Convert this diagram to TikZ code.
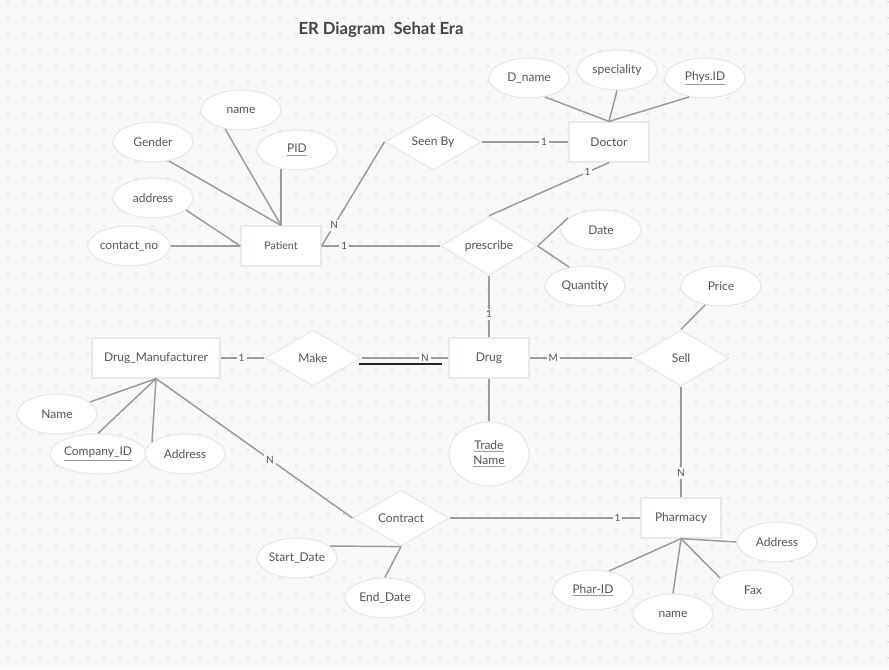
\documentclass[tikz,border=0pt]{standalone}
\usepackage{fontspec}
\setmainfont{Lato}
\usetikzlibrary{shapes.geometric,calc}

\definecolor{bgcol}{RGB}{249,249,251}
\definecolor{dotcol}{RGB}{226,226,232}
\definecolor{linecol}{RGB}{155,155,155}
\definecolor{bordercol}{RGB}{238,230,233}
\definecolor{txtcol}{RGB}{85,85,85}
\definecolor{titlecol}{RGB}{68,68,68}

% key attribute: gray underline
\newcommand{\keyattr}[1]{{\color{linecol}\underline{\color{txtcol}#1}}}

\tikzset{
  entity/.style={rectangle, draw=bordercol, line width=0.9pt, fill=white,
                 minimum width=60pt, minimum height=30pt, inner sep=0pt,
                 text=txtcol, font=\fontsize{9}{11}\selectfont},
  relation/.style={diamond, draw=bordercol, line width=0.9pt, fill=white,
                   minimum width=72pt, minimum height=42pt, inner sep=0pt,
                   text=txtcol, font=\fontsize{9}{11}\selectfont},
  attrib/.style={ellipse, draw=bordercol, line width=0.9pt, fill=white,
                 minimum width=60pt, minimum height=30pt, inner sep=0pt,
                 text=txtcol, font=\fontsize{9}{11}\selectfont},
  link/.style={draw=linecol, line width=1.1pt},
  dline/.style={draw=black!85, line width=1.3pt},
  card/.style={fill=bgcol, inner sep=1.5pt, text=txtcol,
               font=\fontsize{7.5}{9}\selectfont},
}

\begin{document}
\begin{tikzpicture}[x=0.75pt,y=-0.75pt]
  \fill[bgcol] (0,0) rectangle (889,669);
  \useasboundingbox (0,0) rectangle (889,669);
  % dotted grid
  \foreach \i in {0,...,55} {
    \foreach \j in {0,...,41} {
      \fill[dotcol] (7+16*\i,0.5+16*\j) rectangle ++(2,2);
    }
  }

  \node[font=\bfseries\fontsize{12.5}{15}\selectfont, text=titlecol] (title) at (381,30) {ER Diagram\ \ Sehat Era};

  % doctor and patient
  \node[attrib] (dname) at (529,78) {D\_name};
  \node[attrib] (spec) at (617,70) {speciality};
  \node[attrib] (physid) at (705,78) {\keyattr{Phys.ID}};
  \node[entity] (doctor) at (609,142) {Doctor};
  \node[relation] (seenby) at (433,142) {Seen By};
  \node[attrib] (ptname) at (241,110) {name};
  \node[attrib] (gender) at (153,142) {Gender};
  \node[attrib] (pid) at (297,150) {\keyattr{PID}};
  \node[attrib] (addr) at (153,198) {address};
  \node[attrib] (contact) at (129,246) {contact\_no};
  \node[entity, font=\fontsize{8}{10}\selectfont] (patient) at (281,246) {Patient};
  \node[relation] (prescribe) at (489,246) {prescribe};
  \node[attrib] (date) at (601,230) {Date};
  \node[attrib] (qty) at (585,286) {Quantity};
  \node[attrib] (price) at (721,286) {Price};

  % drug row
  \node[entity, minimum width=96pt] (mfr) at (156,358) {Drug\_Manufacturer};
  \node[relation] (make) at (313,358) {Make};
  \node[entity] (drug) at (489,358) {Drug};
  \node[relation] (sell) at (681,358) {Sell};
  \node[attrib] (mname) at (57,414) {Name};
  \node[attrib, minimum width=71pt] (compid) at (98,454) {\keyattr{Company\_ID}};
  \node[attrib] (maddr) at (185,454) {Address};
  \node[attrib, minimum height=48pt, align=center] (trade) at (489,454) {\keyattr{Trade}\\\keyattr{Name}};

  % contract and pharmacy
  \node[relation] (contract) at (401,518) {Contract};
  \node[entity] (pharmacy) at (681,518) {Pharmacy};
  \node[attrib] (sdate) at (297,558) {Start\_Date};
  \node[attrib] (edate) at (385,598) {End\_Date};
  \node[attrib] (pharid) at (593,590) {\keyattr{Phar-ID}};
  \node[attrib] (phname) at (673,614) {name};
  \node[attrib] (fax) at (753,590) {Fax};
  \node[attrib] (phaddr) at (777,542) {Address};

  % connectors
  \draw[link] (dname.-50) -- (doctor.north);
  \draw[link] (spec.south) -- (doctor.north);
  \draw[link] (physid.-130) -- (doctor.north);
  \draw[link] (seenby.east) -- node[card, pos=0.72] {1} (doctor.west);
  \draw[link] (seenby.west) -- node[card, pos=0.8] {N} (patient.east);
  \draw[link] (ptname.-130) -- (patient.north);
  \draw[link] (gender.-50) -- (patient.north);
  \draw[link] (patient.north) -- (patient.north |- pid.-131);
  \draw[link] (addr.-20) -- (patient.west);
  \draw[link] (contact.east) -- (patient.west);
  \draw[link] (patient.east) -- node[card, pos=0.19] {1} (prescribe.west);
  \draw[link] (prescribe.north) -- node[card, pos=0.82] {1} (doctor.south);
  \draw[link] (prescribe.east) -- (date.160);
  \draw[link] (prescribe.east) -- (qty.130);
  \draw[link] (prescribe.south) -- node[card, pos=0.62] {1} (drug.north);

  \draw[link] (mfr.east) -- node[card, pos=0.48] {1} (make.west);
  \draw[link] (make.east) -- node[card, pos=0.73] {N} (drug.west);
  \draw[dline] ($(make.east)+(-3,6)$) -- ($(drug.west)+(-6,6)$);
  \draw[link] (drug.east) -- node[card, pos=0.23] {M} (sell.west);
  \draw[link] (sell.north) -- (price.230);
  \draw[link] (sell.south) -- node[card, pos=0.78] {N} (pharmacy.north);
  \draw[link] (drug.south) -- (trade.north);
  \draw[link] (mname.20) -- (mfr.south);
  \draw[link] (compid.north) -- (mfr.south);
  \draw[link] (maddr.160) -- (mfr.south);
  \draw[link] (mfr.south) -- node[card, pos=0.58] {N} (contract.west);

  \draw[link] (contract.east) -- node[card, pos=0.88] {1} (pharmacy.west);
  \draw[link] (contract.south) -- (sdate.20);
  \draw[link] (contract.south) -- (edate.north);
  \draw[link] (pharid.50) -- (pharmacy.south);
  \draw[link] (phname.north) -- (pharmacy.south);
  \draw[link] (fax.160) -- (pharmacy.south);
  \draw[link] (phaddr.west) -- (pharmacy.south);
\end{tikzpicture}
\end{document}
